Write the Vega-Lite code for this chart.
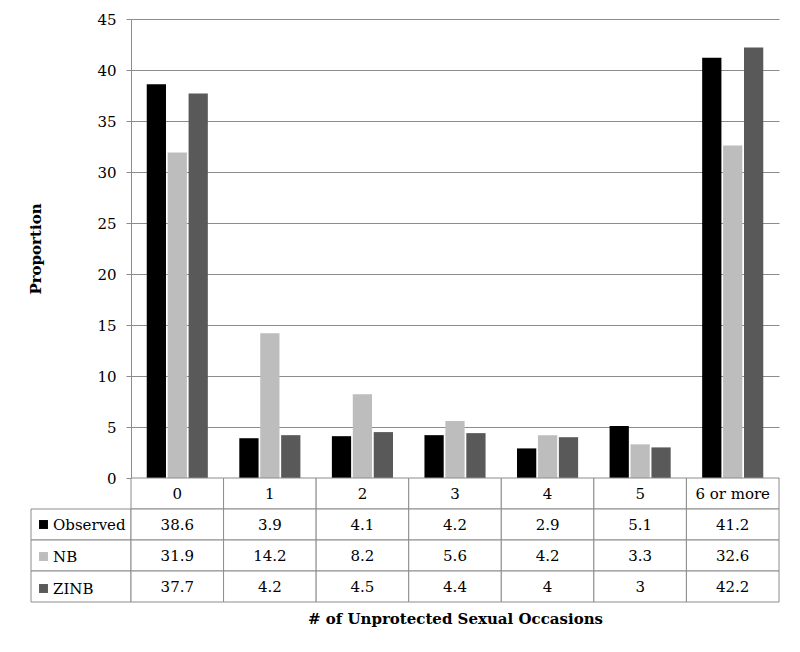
{
  "$schema": "https://vega.github.io/schema/vega-lite/v6.json",
  "padding": {"left": 28, "top": 12, "right": 5, "bottom": 5},
  "background": "white",
  "datasets": {
    "props": [
      {"cat": "0", "Observed": 38.6, "NB": 31.9, "ZINB": 37.7},
      {"cat": "1", "Observed": 3.9, "NB": 14.2, "ZINB": 4.2},
      {"cat": "2", "Observed": 4.1, "NB": 8.2, "ZINB": 4.5},
      {"cat": "3", "Observed": 4.2, "NB": 5.6, "ZINB": 4.4},
      {"cat": "4", "Observed": 2.9, "NB": 4.2, "ZINB": 4},
      {"cat": "5", "Observed": 5.1, "NB": 3.3, "ZINB": 3},
      {"cat": "6 or more", "Observed": 41.2, "NB": 32.6, "ZINB": 42.2}
    ]
  },
  "config": {
    "view": {"stroke": null},
    "font": "DejaVu Serif",
    "axis": {"labelFont": "DejaVu Serif", "titleFont": "DejaVu Serif", "labelColor": "black", "titleColor": "black"}
  },
  "columns": 2,
  "spacing": 0,
  "bounds": "flush",
  "concat": [
    {"width": 100, "height": 459, "data": {"values": []}, "mark": "point", "encoding": {}},
    {
      "width": 648,
      "height": 459,
      "data": {"name": "props"},
      "transform": [{"fold": ["Observed", "NB", "ZINB"], "as": ["series", "value"]}],
      "mark": {"type": "bar"},
      "encoding": {
        "x": {"field": "cat", "type": "nominal", "sort": ["0", "1", "2", "3", "4", "5", "6 or more"], "scale": {"paddingInner": 0.34, "paddingOuter": 0.17}, "axis": null},
        "xOffset": {"field": "series", "type": "nominal", "sort": ["Observed", "NB", "ZINB"], "scale": {"paddingInner": 0.08, "paddingOuter": 0}},
        "y": {
          "field": "value", "type": "quantitative",
          "scale": {"domain": [0, 45], "nice": false},
          "axis": {"values": [0, 5, 10, 15, 20, 25, 30, 35, 40, 45], "title": "Proportion", "titleFontWeight": "bold", "titleFontSize": 15, "titlePadding": 53, "labelFontSize": 15, "labelPadding": 10, "tickSize": 5, "domainColor": "#8c8c8c", "tickColor": "#8c8c8c", "gridColor": "#8c8c8c", "grid": true, "gridOpacity": 1}
        },
        "color": {
          "field": "series", "type": "nominal",
          "scale": {"domain": ["Observed", "NB", "ZINB"], "range": ["#000000", "#bdbdbd", "#595959"]},
          "legend": {"title": null, "orient": "none", "legendX": 5, "legendY": 498, "symbolType": "square", "symbolSize": 80, "symbolStrokeWidth": 0, "labelFont": "DejaVu Serif", "labelFontSize": 15, "labelColor": "black", "labelOffset": 2, "rowPadding": 16, "padding": 0}
        }
      }
    },
    {
      "width": 100,
      "height": 124,
      "data": {"name": "props"},
      "transform": [
        {"fold": ["Observed", "NB", "ZINB"], "as": ["series", "value"]},
        {"aggregate": [{"op": "count", "as": "n"}], "groupby": ["series"]}
      ],
      "mark": {"type": "rect", "fill": "white", "stroke": "#8c8c8c", "strokeWidth": 1},
      "encoding": {
        "y": {"field": "series", "type": "nominal", "scale": {"domain": ["hdr", "Observed", "NB", "ZINB"], "paddingInner": 0, "paddingOuter": 0}, "axis": null}
      }
    },
    {
      "width": 648,
      "height": 124,
      "data": {"name": "props"},
      "encoding": {
        "x": {"field": "cat", "type": "nominal", "sort": ["0", "1", "2", "3", "4", "5", "6 or more"], "scale": {"paddingInner": 0, "paddingOuter": 0},
          "axis": {"title": "# of Unprotected Sexual Occasions", "labels": false, "ticks": false, "domain": false, "grid": false, "titleFontWeight": "bold", "titleFontSize": 15, "titlePadding": 9}}
      },
      "layer": [
        {
          "mark": {"type": "rect", "fill": "white", "stroke": "#8c8c8c", "strokeWidth": 1},
          "encoding": {"y": {"datum": "hdr", "type": "nominal", "scale": {"domain": ["hdr", "Observed", "NB", "ZINB"], "paddingInner": 0, "paddingOuter": 0}, "axis": null}}
        },
        {
          "mark": {"type": "text", "fontSize": 15, "font": "DejaVu Serif", "color": "black"},
          "encoding": {"y": {"datum": "hdr", "type": "nominal", "axis": null}, "text": {"field": "cat", "type": "nominal"}}
        },
        {
          "transform": [{"fold": ["Observed", "NB", "ZINB"], "as": ["series", "value"]}],
          "mark": {"type": "rect", "fill": "white", "stroke": "#8c8c8c", "strokeWidth": 1},
          "encoding": {"y": {"field": "series", "type": "nominal", "axis": null}}
        },
        {
          "transform": [{"fold": ["Observed", "NB", "ZINB"], "as": ["series", "value"]}],
          "mark": {"type": "text", "fontSize": 15, "font": "DejaVu Serif", "color": "black"},
          "encoding": {"y": {"field": "series", "type": "nominal", "axis": null}, "text": {"field": "value", "type": "nominal"}}
        }
      ]
    }
  ]
}
